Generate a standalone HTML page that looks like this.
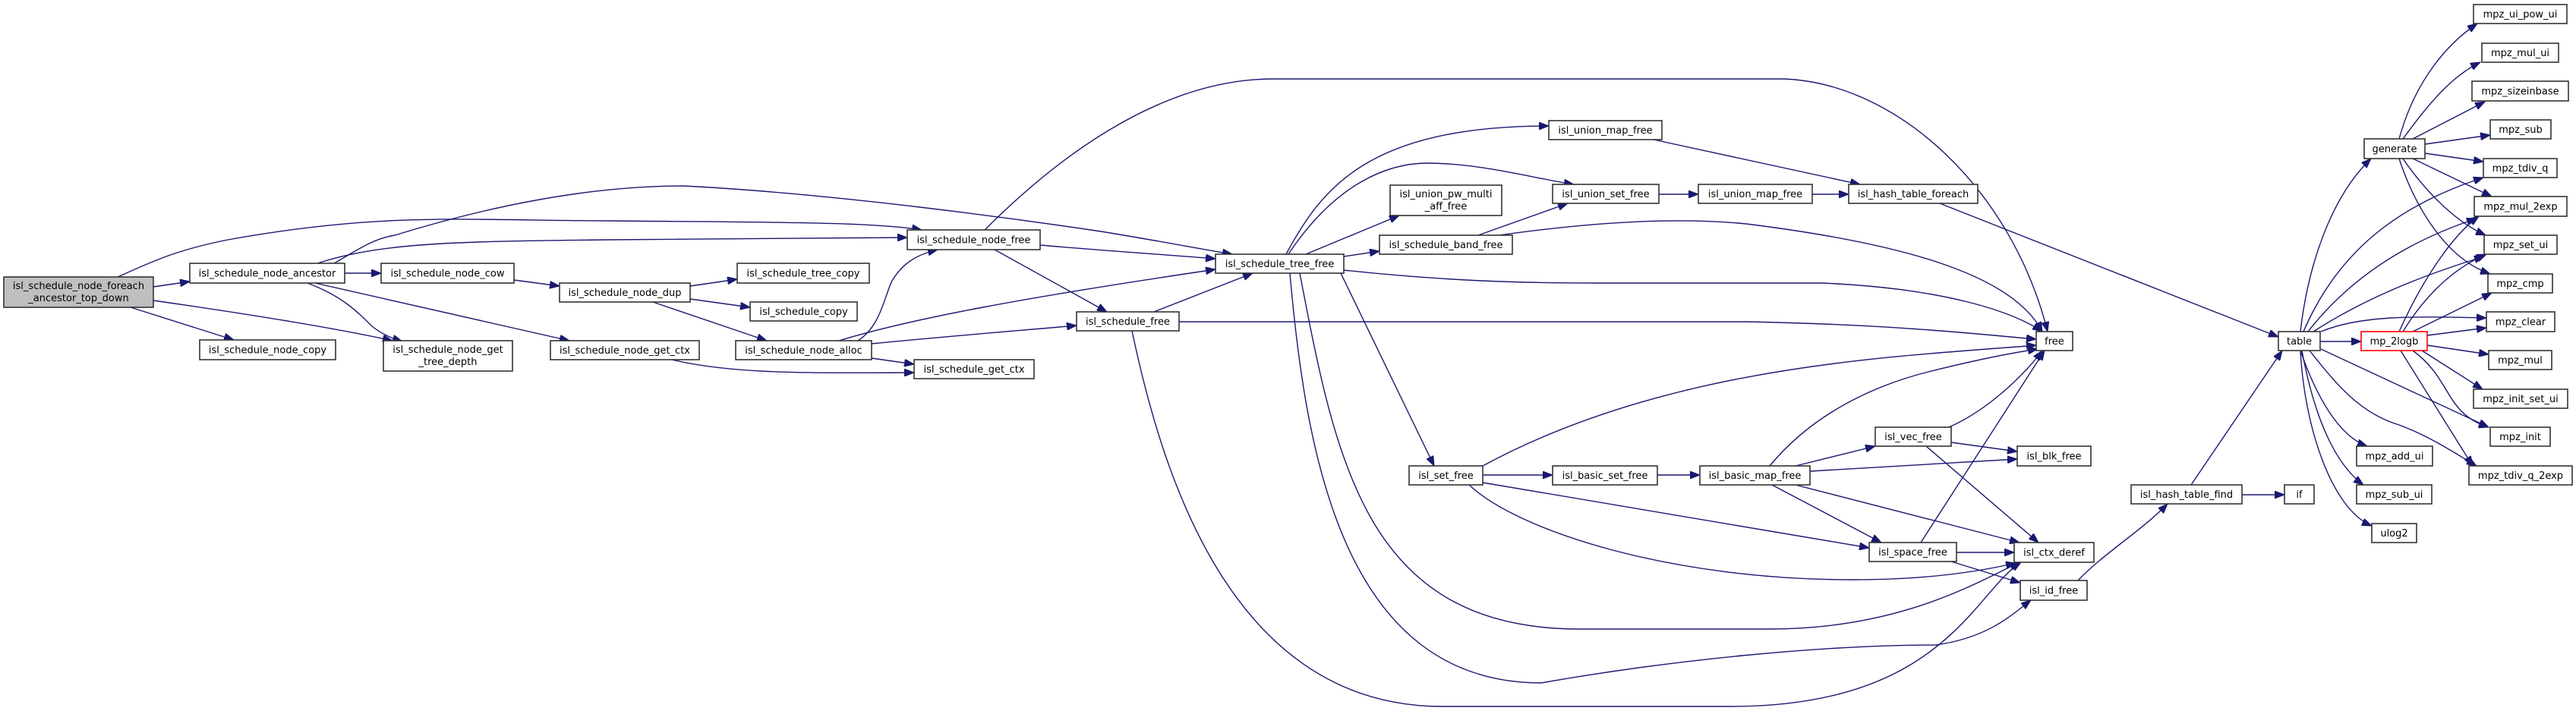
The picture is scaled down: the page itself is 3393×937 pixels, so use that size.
<!DOCTYPE html>
<html><head><meta charset="utf-8"><style>
html,body{margin:0;padding:0;background:#fff;}
svg{display:block;}
text{font-family:"DejaVu Sans","Liberation Sans",sans-serif;font-size:13px;fill:#000;}
.n{fill:#fff;stroke:#333;stroke-width:1.6;}
.e{fill:none;stroke:#191970;stroke-width:1.4;}
</style></head><body>
<svg width="3393" height="937" viewBox="0 0 3393 937" xmlns="http://www.w3.org/2000/svg">
<defs>
<marker id="a" markerUnits="userSpaceOnUse" markerWidth="14" markerHeight="10" refX="13" refY="5" orient="auto">
<path d="M0,0 L13,5 L0,10 Z" fill="#191970" stroke="#191970"/>
</marker>
</defs>
<g class="edges" marker-end="url(#a)">
<!-- root -->
<path class="e" marker-end="url(#a)" d="M202,378 L250,371"/>
<path class="e" marker-end="url(#a)" d="M172,405 L308,448"/>
<path class="e" marker-end="url(#a)" d="M202,396 C300,410 430,430 517,449"/>
<path class="e" marker-end="url(#a)" d="M155,365 C200,345 230,330 300,316 C500,280 600,290 800,291 C1000,293 1150,292 1214,303"/>
<!-- ancestor -->
<path class="e" marker-end="url(#a)" d="M454,360 L502,360"/>
<path class="e" marker-end="url(#a)" d="M405,373 C450,390 470,410 490,430 C505,442 520,447 530,450"/>
<path class="e" marker-end="url(#a)" d="M415,373 L750,449"/>
<path class="e" marker-end="url(#a)" d="M418,347 C500,320 600,318 800,316 C1000,314 1100,313 1195,313"/>
<path class="e" marker-end="url(#a)" d="M440,347 C470,330 490,315 520,310 C650,270 780,245 900,245 C1100,255 1350,290 1450,305 C1530,318 1580,328 1623,335"/>
<!-- cow, dup -->
<path class="e" marker-end="url(#a)" d="M677,369 L737,377"/>
<path class="e" marker-end="url(#a)" d="M909,377 L971,368"/>
<path class="e" marker-end="url(#a)" d="M909,394 L988,405"/>
<path class="e" marker-end="url(#a)" d="M860,398 L1010,449"/>
<!-- get_ctx, alloc -->
<path class="e" marker-end="url(#a)" d="M885,474 C960,492 1050,492 1204,491"/>
<path class="e" marker-end="url(#a)" d="M1148,472 L1204,480"/>
<path class="e" marker-end="url(#a)" d="M1130,449 C1160,430 1165,390 1175,370 C1190,345 1210,335 1235,329"/>
<path class="e" marker-end="url(#a)" d="M1105,449 C1200,420 1350,392 1601,355"/>
<path class="e" marker-end="url(#a)" d="M1148,453 C1250,443 1350,435 1418,429"/>
<!-- node_free -->
<path class="e" marker-end="url(#a)" d="M1370,323 C1450,330 1540,336 1601,341"/>
<path class="e" marker-end="url(#a)" d="M1310,329 L1458,411"/>
<path class="e" marker-end="url(#a)" d="M1297,303 C1380,220 1520,104 1677,104 L2350,104 C2500,110 2650,250 2697,437"/>
<!-- schedule_free -->
<path class="e" marker-end="url(#a)" d="M1520,411 L1650,360"/>
<path class="e" marker-end="url(#a)" d="M1553,424 L2300,424 C2500,428 2600,440 2682,447"/>
<path class="e" marker-end="url(#a)" d="M1491,436 C1530,620 1620,931 1900,931 L2280,931 C2560,931 2600,780 2662,741"/>
<!-- tree_free -->
<path class="e" marker-end="url(#a)" d="M1694,335 C1740,250 1800,166 2040,166"/>
<path class="e" marker-end="url(#a)" d="M1697,335 C1760,240 1830,215 1880,215 C1950,215 2020,235 2073,243"/>
<path class="e" marker-end="url(#a)" d="M1720,335 L1843,284"/>
<path class="e" marker-end="url(#a)" d="M1770,338 L1817,331"/>
<path class="e" marker-end="url(#a)" d="M1770,356 C1900,370 2000,373 2100,373 L2400,373 C2560,380 2650,410 2690,437"/>
<path class="e" marker-end="url(#a)" d="M1766,360 L1889,614"/>
<path class="e" marker-end="url(#a)" d="M1712,360 C1760,610 1800,829 2080,829 L2330,829 C2500,829 2600,770 2660,741"/>
<path class="e" marker-end="url(#a)" d="M1699,360 C1720,600 1770,900 2030,900 C2200,870 2400,850 2550,850 C2620,840 2650,810 2675,791"/>
<!-- band_free -->
<path class="e" marker-end="url(#a)" d="M1947,310 L2065,268"/>
<path class="e" marker-end="url(#a)" d="M1975,310 C2080,295 2200,285 2300,295 C2500,320 2650,360 2690,437"/>
<!-- union chains -->
<path class="e" marker-end="url(#a)" d="M2185,256 L2237,256"/>
<path class="e" marker-end="url(#a)" d="M2387,256 L2435,256"/>
<path class="e" marker-end="url(#a)" d="M2178,184 L2450,243"/>
<path class="e" marker-end="url(#a)" d="M2555,268 L3001,444"/>
<!-- set_free -->
<path class="e" marker-end="url(#a)" d="M1953,614 C2200,480 2500,470 2682,455"/>
<path class="e" marker-end="url(#a)" d="M1953,626 L2045,626"/>
<path class="e" marker-end="url(#a)" d="M2183,626 L2239,626"/>
<path class="e" marker-end="url(#a)" d="M1953,636 L2462,722"/>
<path class="e" marker-end="url(#a)" d="M1935,639 C2000,700 2200,764 2440,764 C2530,764 2600,755 2655,742"/>
<!-- basic_map_free -->
<path class="e" marker-end="url(#a)" d="M2331,614 C2400,530 2500,500 2540,490 C2600,475 2650,465 2684,460"/>
<path class="e" marker-end="url(#a)" d="M2365,614 L2470,588"/>
<path class="e" marker-end="url(#a)" d="M2384,621 L2657,605"/>
<path class="e" marker-end="url(#a)" d="M2334,639 L2478,715"/>
<path class="e" marker-end="url(#a)" d="M2365,639 L2660,715"/>
<!-- vec_free -->
<path class="e" marker-end="url(#a)" d="M2567,563 C2620,540 2670,490 2690,462"/>
<path class="e" marker-end="url(#a)" d="M2570,583 L2657,595"/>
<path class="e" marker-end="url(#a)" d="M2537,588 L2685,715"/>
<!-- space_free -->
<path class="e" marker-end="url(#a)" d="M2530,715 L2693,462"/>
<path class="e" marker-end="url(#a)" d="M2577,728 L2653,728"/>
<path class="e" marker-end="url(#a)" d="M2570,740 L2661,768"/>
<!-- id_free -> hash_find -->
<path class="e" marker-end="url(#a)" d="M2737,765 C2770,730 2820,700 2855,664"/>
<path class="e" marker-end="url(#a)" d="M2886,639 L3006,462"/>
<path class="e" marker-end="url(#a)" d="M2953,652 L3009,652"/>
<!-- table -->
<path class="e" marker-end="url(#a)" d="M3030,437 C3040,350 3070,260 3123,209"/>
<path class="e" marker-end="url(#a)" d="M3056,450 L3110,450"/>
<path class="e" marker-end="url(#a)" d="M3034,437 C3080,330 3160,270 3271,234"/>
<path class="e" marker-end="url(#a)" d="M3040,437 C3100,360 3180,315 3262,288"/>
<path class="e" marker-end="url(#a)" d="M3047,437 C3120,390 3200,360 3272,338"/>
<path class="e" marker-end="url(#a)" d="M3057,437 C3110,415 3180,417 3275,419"/>
<path class="e" marker-end="url(#a)" d="M3030,462 C3050,520 3080,575 3118,588"/>
<path class="e" marker-end="url(#a)" d="M3032,462 C3050,560 3080,615 3113,639"/>
<path class="e" marker-end="url(#a)" d="M3030,462 C3035,560 3070,670 3124,693"/>
<path class="e" marker-end="url(#a)" d="M3057,460 L3278,563"/>
<path class="e" marker-end="url(#a)" d="M3042,462 C3080,510 3110,545 3160,560 C3200,575 3230,595 3262,614"/>
<!-- mp_2logb -->
<path class="e" marker-end="url(#a)" d="M3160,437 C3190,370 3230,310 3265,285"/>
<path class="e" marker-end="url(#a)" d="M3165,437 C3200,380 3240,350 3275,335"/>
<path class="e" marker-end="url(#a)" d="M3178,437 L3282,386"/>
<path class="e" marker-end="url(#a)" d="M3197,442 L3275,432"/>
<path class="e" marker-end="url(#a)" d="M3197,455 L3278,467"/>
<path class="e" marker-end="url(#a)" d="M3162,462 L3257,614"/>
<path class="e" marker-end="url(#a)" d="M3178,462 C3230,500 3220,545 3278,563"/>
<path class="e" marker-end="url(#a)" d="M3190,462 L3270,513"/>
<!-- generate -->
<path class="e" marker-end="url(#a)" d="M3160,183 C3180,110 3220,60 3263,31"/>
<path class="e" marker-end="url(#a)" d="M3165,183 C3200,135 3230,100 3267,82"/>
<path class="e" marker-end="url(#a)" d="M3178,183 L3273,134"/>
<path class="e" marker-end="url(#a)" d="M3194,190 L3280,178"/>
<path class="e" marker-end="url(#a)" d="M3194,202 L3271,213"/>
<path class="e" marker-end="url(#a)" d="M3178,209 L3282,259"/>
<path class="e" marker-end="url(#a)" d="M3165,209 C3200,260 3240,295 3274,310"/>
<path class="e" marker-end="url(#a)" d="M3160,209 C3180,270 3220,340 3280,361"/>
</g>
<g class="nodes">
<rect x="5" y="365" width="197" height="40" fill="#bfbfbf" stroke="#333" stroke-width="1.6"/>
<text x="103.5" y="381" text-anchor="middle">isl_schedule_node_foreach</text>
<text x="103.5" y="397" text-anchor="middle">_ancestor_top_down</text>

<rect class="n" x="505" y="449" width="170" height="40"/>
<text x="590" y="465" text-anchor="middle">isl_schedule_node_get</text>
<text x="590" y="481" text-anchor="middle">_tree_depth</text>

<rect class="n" x="1831" y="244" width="147" height="40"/>
<text x="1904.5" y="260" text-anchor="middle">isl_union_pw_multi</text>
<text x="1904.5" y="276" text-anchor="middle">_aff_free</text>

<rect class="n" x="250" y="347" width="204" height="26"/><text x="352" y="364.5" text-anchor="middle">isl_schedule_node_ancestor</text>
<rect class="n" x="502" y="347" width="175" height="26"/><text x="589.5" y="364.5" text-anchor="middle">isl_schedule_node_cow</text>
<rect class="n" x="263" y="448" width="179" height="26"/><text x="352.5" y="465.5" text-anchor="middle">isl_schedule_node_copy</text>
<rect class="n" x="1195" y="303" width="175" height="26"/><text x="1282.5" y="320.5" text-anchor="middle">isl_schedule_node_free</text>
<rect class="n" x="971" y="347" width="174" height="26"/><text x="1058" y="364.5" text-anchor="middle">isl_schedule_tree_copy</text>
<rect class="n" x="737" y="373" width="172" height="25"/><text x="823" y="390" text-anchor="middle">isl_schedule_node_dup</text>
<rect class="n" x="988" y="398" width="141" height="25"/><text x="1058.5" y="415" text-anchor="middle">isl_schedule_copy</text>
<rect class="n" x="725" y="449" width="196" height="25"/><text x="823" y="466" text-anchor="middle">isl_schedule_node_get_ctx</text>
<rect class="n" x="969" y="449" width="179" height="25"/><text x="1058.5" y="466" text-anchor="middle">isl_schedule_node_alloc</text>
<rect class="n" x="1204" y="474" width="158" height="25"/><text x="1283" y="491" text-anchor="middle">isl_schedule_get_ctx</text>
<rect class="n" x="2040" y="159" width="149" height="25"/><text x="2114.5" y="176" text-anchor="middle">isl_union_map_free</text>
<rect class="n" x="2045" y="243" width="140" height="25"/><text x="2115" y="260" text-anchor="middle">isl_union_set_free</text>
<rect class="n" x="2237" y="243" width="150" height="25"/><text x="2312" y="260" text-anchor="middle">isl_union_map_free</text>
<rect class="n" x="2435" y="243" width="170" height="25"/><text x="2520" y="260" text-anchor="middle">isl_hash_table_foreach</text>
<rect class="n" x="1817" y="310" width="175" height="25"/><text x="1904.5" y="327" text-anchor="middle">isl_schedule_band_free</text>
<rect class="n" x="1601" y="335" width="169" height="25"/><text x="1685.5" y="352" text-anchor="middle">isl_schedule_tree_free</text>
<rect class="n" x="1418" y="411" width="135" height="25"/><text x="1485.5" y="428" text-anchor="middle">isl_schedule_free</text>
<rect class="n" x="2682" y="437" width="48" height="25"/><text x="2706" y="454" text-anchor="middle">free</text>
<rect class="n" x="1856" y="614" width="97" height="25"/><text x="1904.5" y="631" text-anchor="middle">isl_set_free</text>
<rect class="n" x="2045" y="614" width="138" height="25"/><text x="2114" y="631" text-anchor="middle">isl_basic_set_free</text>
<rect class="n" x="2239" y="614" width="145" height="25"/><text x="2311.5" y="631" text-anchor="middle">isl_basic_map_free</text>
<rect class="n" x="2470" y="563" width="100" height="25"/><text x="2520" y="580" text-anchor="middle">isl_vec_free</text>
<rect class="n" x="2657" y="588" width="97" height="26"/><text x="2705.5" y="605.5" text-anchor="middle">isl_blk_free</text>
<rect class="n" x="2462" y="715" width="115" height="25"/><text x="2519.5" y="732" text-anchor="middle">isl_space_free</text>
<rect class="n" x="2653" y="715" width="105" height="26"/><text x="2705.5" y="732.5" text-anchor="middle">isl_ctx_deref</text>
<rect class="n" x="2661" y="765" width="88" height="26"/><text x="2705" y="782.5" text-anchor="middle">isl_id_free</text>
<rect class="n" x="2807" y="639" width="146" height="25"/><text x="2880" y="656" text-anchor="middle">isl_hash_table_find</text>
<rect class="n" x="3009" y="639" width="39" height="25"/><text x="3028.5" y="656" text-anchor="middle">if</text>
<rect class="n" x="3001" y="437" width="55" height="25"/><text x="3028.5" y="454" text-anchor="middle">table</text>
<rect x="3110" y="437" width="87" height="25" fill="#fff" stroke="#ff0000" stroke-width="1.6"/><text x="3153.5" y="454" text-anchor="middle">mp_2logb</text>
<rect class="n" x="3114" y="183" width="80" height="26"/><text x="3154" y="200.5" text-anchor="middle">generate</text>
<rect class="n" x="3258" y="6" width="123" height="25"/><text x="3319.5" y="23" text-anchor="middle">mpz_ui_pow_ui</text>
<rect class="n" x="3269" y="57" width="101" height="25"/><text x="3319.5" y="74" text-anchor="middle">mpz_mul_ui</text>
<rect class="n" x="3256" y="107" width="127" height="26"/><text x="3319.5" y="124.5" text-anchor="middle">mpz_sizeinbase</text>
<rect class="n" x="3280" y="158" width="80" height="25"/><text x="3320" y="175" text-anchor="middle">mpz_sub</text>
<rect class="n" x="3271" y="209" width="97" height="25"/><text x="3319.5" y="226" text-anchor="middle">mpz_tdiv_q</text>
<rect class="n" x="3259" y="259" width="122" height="26"/><text x="3320" y="276.5" text-anchor="middle">mpz_mul_2exp</text>
<rect class="n" x="3272" y="310" width="96" height="25"/><text x="3320" y="327" text-anchor="middle">mpz_set_ui</text>
<rect class="n" x="3277" y="361" width="85" height="25"/><text x="3319.5" y="378" text-anchor="middle">mpz_cmp</text>
<rect class="n" x="3275" y="411" width="90" height="26"/><text x="3320" y="428.5" text-anchor="middle">mpz_clear</text>
<rect class="n" x="3278" y="462" width="83" height="25"/><text x="3319.5" y="479" text-anchor="middle">mpz_mul</text>
<rect class="n" x="3258" y="513" width="124" height="25"/><text x="3320" y="530" text-anchor="middle">mpz_init_set_ui</text>
<rect class="n" x="3280" y="563" width="79" height="25"/><text x="3319.5" y="580" text-anchor="middle">mpz_init</text>
<rect class="n" x="3252" y="614" width="136" height="25"/><text x="3320" y="631" text-anchor="middle">mpz_tdiv_q_2exp</text>
<rect class="n" x="3104" y="588" width="100" height="26"/><text x="3154" y="605.5" text-anchor="middle">mpz_add_ui</text>
<rect class="n" x="3104" y="639" width="99" height="25"/><text x="3153.5" y="656" text-anchor="middle">mpz_sub_ui</text>
<rect class="n" x="3124" y="690" width="59" height="25"/><text x="3153.5" y="707" text-anchor="middle">ulog2</text>
</g>
</svg>
</body></html>
